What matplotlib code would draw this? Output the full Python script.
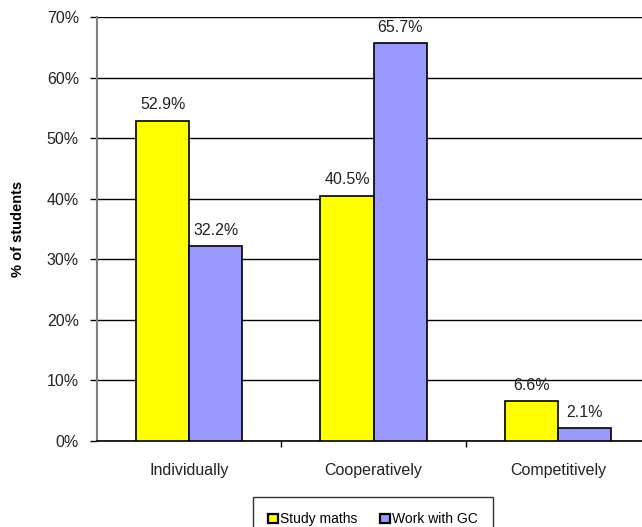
import matplotlib
matplotlib.use("Agg")
import matplotlib.pyplot as plt
import numpy as np

categories = ["Individually", "Cooperatively", "Competitively"]
study_maths = [52.9, 40.5, 6.6]
work_with_gc = [32.2, 65.7, 2.1]
series_names = ["Study maths", "Work with GC"]
y_ticks = [0, 10, 20, 30, 40, 50, 60, 70]

plt.rcParams["font.family"] = ["Liberation Sans", "DejaVu Sans"]

W, H = 642, 527
fig = plt.figure(figsize=(W / 100, H / 100), dpi=100)
left, right, bottom, top = 97, 650, 441, 17
ax = fig.add_axes([left / W, 1 - bottom / H, (right - left) / W, (bottom - top) / H])

x = np.arange(len(categories))
bw = 0.2876
b1 = ax.bar(x - bw / 2, study_maths, bw, color="#ffff00", edgecolor="black", linewidth=1.2,
            label=series_names[0], zorder=3)
b2 = ax.bar(x + bw / 2, work_with_gc, bw, color="#9999ff", edgecolor="black", linewidth=1.2,
            label=series_names[1], zorder=3)

for bars, vals in ((b1, study_maths), (b2, work_with_gc)):
    for rect, v in zip(bars, vals):
        ax.annotate(f"{v:.1f}%", (rect.get_x() + rect.get_width() / 2, v),
                    xytext=(0, 6), textcoords="offset points", ha="center", va="bottom",
                    fontsize=11.5, color="#222222")

ax.set_xlim(-0.5, 2.5)
ax.set_ylim(0, 70)
ax.set_yticks(y_ticks)
ax.set_yticklabels([f"{t}%" for t in y_ticks], fontsize=11.5, color="#222222")
ax.yaxis.grid(True, color="black", linewidth=1)
ax.set_axisbelow(True)

ax.set_xticks([0.5, 1.5], minor=False)
ax.set_xticklabels([])
ax.set_xticks(x, minor=True)
ax.set_xticklabels(categories, minor=True, fontsize=11.5, color="#222222")
ax.tick_params(axis="x", which="minor", length=0, pad=16)
ax.tick_params(axis="x", which="major", length=4, width=1, direction="out")
ax.tick_params(axis="y", length=5, width=1, direction="out", pad=8)

for s in ("top", "right"):
    ax.spines[s].set_visible(False)
ax.spines["left"].set_color("#808080")
ax.spines["left"].set_linewidth(1.5)
ax.spines["bottom"].set_color("black")
ax.spines["bottom"].set_linewidth(1.2)

fig.text(18 / W, 1 - 229 / H, "% of students", rotation=90, ha="center", va="center",
         fontsize=10.5, fontweight="bold")

leg = fig.legend(loc="upper center", bbox_to_anchor=(373 / W, 1 - 497 / H), ncol=2,
                 fontsize=10, frameon=True, fancybox=False, edgecolor="black",
                 handlelength=0.7, handleheight=0.7, handletextpad=0.2, columnspacing=1.6,
                 borderpad=1.1, borderaxespad=0)
leg.get_frame().set_linewidth(1)
for h in leg.legend_handles:
    h.set_linewidth(1.6)

fig.savefig("out.png", dpi=100)
